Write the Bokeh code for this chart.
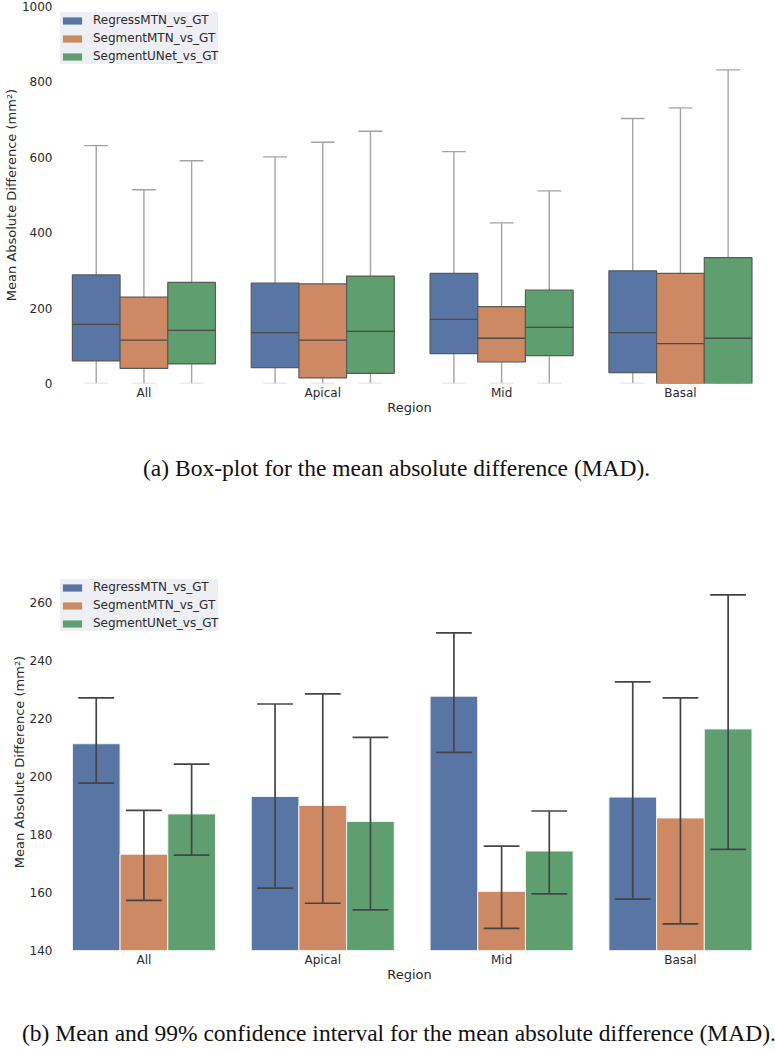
import numpy as np
from bokeh.plotting import figure
from bokeh.models import FixedTicker, Legend, LegendItem, Range1d, Div
from bokeh.layouts import column
from bokeh.embed import file_html
from bokeh.resources import INLINE

# ---------------- data ----------------
regions = ["All", "Apical", "Mid", "Basal"]
models = ["RegressMTN_vs_GT", "SegmentMTN_vs_GT", "SegmentUNet_vs_GT"]
colors = ["#5875a4", "#cc8963", "#5f9e6e"]

# box-plot statistics (rows = models, columns = regions)
box_low = [[0, 0, 0, 0], [0, 0, 0, 0], [0, 0, 0, 0]]
box_q1 = [[60, 42, 79, 29], [40, 15, 57, 0], [52, 27, 74, 0]]
box_median = [[157, 135, 170, 135], [115, 115, 120, 106], [141, 138, 149, 120]]
box_q3 = [[288, 266, 292, 299], [229, 264, 204, 292], [268, 285, 248, 334]]
box_high = [[631, 601, 615, 703], [514, 640, 426, 731], [591, 669, 511, 832]]

# mean and 99% confidence interval
mean_mad = [[211.3, 193.1, 227.7, 192.9], [173.2, 190.0, 160.4, 185.7], [187.1, 184.5, 174.3, 216.4]]
ci_low = [[197.7, 161.5, 208.3, 157.7], [157.3, 156.3, 147.6, 149.2], [172.9, 154.0, 159.5, 174.9]]
ci_high = [[227.1, 225.0, 249.5, 232.6], [188.3, 228.5, 176.0, 227.1], [204.3, 213.5, 188.1, 262.6]]

top_yticks = [0, 200, 400, 600, 800, 1000]
bottom_yticks = [140, 160, 180, 200, 220, 240, 260]

ylabel = "Mean Absolute Difference (mm\u00b2)"
xlabel = "Region"
caption_a = "(a) Box-plot for the mean absolute difference (MAD)."
caption_b = "(b) Mean and 99% confidence interval for the mean absolute difference (MAD)."

# ---------------- styling helpers ----------------
FONT = "DejaVu Sans"
TXT = "#2a2a2a"
bw = 0.8 / 3
offsets = [-bw, 0.0, bw]


def make_fig(y0, y1, yticks, height, top_border):
    p = figure(width=766, height=height, output_backend="svg", toolbar_location=None,
               x_range=Range1d(-0.5, 3.47), y_range=Range1d(y0, y1),
               min_border_left=45, min_border_right=2, min_border_top=top_border,
               min_border_bottom=36)
    p.outline_line_color = None
    p.xgrid.visible = False
    p.ygrid.visible = False
    p.background_fill_color = "white"
    for ax in (p.xaxis[0], p.yaxis[0]):
        ax.axis_line_color = None
        ax.major_tick_line_color = None
        ax.minor_tick_line_color = None
        ax.major_tick_out = 0
        ax.major_tick_in = 0
        ax.minor_tick_out = 0
        ax.minor_tick_in = 0
        ax.major_label_text_font = FONT
        ax.major_label_text_font_size = "12px"
        ax.major_label_text_color = TXT
        ax.axis_label_text_font = FONT
        ax.axis_label_text_font_size = "13px"
        ax.axis_label_text_font_style = "normal"
        ax.axis_label_text_color = TXT
        ax.major_label_standoff = 2
    p.xaxis.axis_label_standoff = -3
    p.yaxis.axis_label_standoff = 0
    p.xaxis.ticker = FixedTicker(ticks=list(range(len(regions))))
    p.xaxis.major_label_overrides = {i: r for i, r in enumerate(regions)}
    p.xaxis.axis_label = xlabel
    p.yaxis.ticker = FixedTicker(ticks=yticks)
    p.yaxis.axis_label = ylabel
    return p


def add_legend(p):
    rs = []
    for j in range(len(models)):
        # swatch renderer placed outside the visible range, used only for the legend
        rs.append(p.vbar(x=[-10], width=0.1, top=[1], bottom=[0],
                         fill_color=colors[j], line_color=None))
    leg = Legend(items=[LegendItem(label=m, renderers=[r]) for m, r in zip(models, rs)],
                 location="top_left", margin=6, padding=5, spacing=2,
                 glyph_width=24, glyph_height=9, label_height=16, label_width=125,
                 label_standoff=9,
                 label_text_font=FONT, label_text_font_size="12px", label_text_color=TXT,
                 background_fill_color="#eeeef5", background_fill_alpha=1.0,
                 border_line_color=None)
    p.add_layout(leg)


# ---------------- (a) box plot ----------------
p1 = make_fig(0, 1000, top_yticks, 419, 6)
whisk = "#a3a3a3"
edge = "#5a5a5a"
capw = bw / 2
for j in range(len(models)):
    xs = np.arange(len(regions)) + offsets[j]
    lo = np.array(box_low[j], dtype=float)
    q1 = np.array(box_q1[j], dtype=float)
    md = np.array(box_median[j], dtype=float)
    q3 = np.array(box_q3[j], dtype=float)
    hi = np.array(box_high[j], dtype=float)
    p1.segment(xs, q3, xs, hi, line_color=whisk, line_width=1.4)
    p1.segment(xs, lo, xs, q1, line_color=whisk, line_width=1.4)
    p1.segment(xs - capw / 2, hi, xs + capw / 2, hi, line_color=whisk, line_width=1.4)
    p1.segment(xs - capw / 2, lo, xs + capw / 2, lo, line_color="#d8d8d8", line_width=1.4)
    p1.vbar(x=xs, width=bw, bottom=q1, top=q3, fill_color=colors[j],
            line_color=edge, line_width=1.2)
    p1.segment(xs - bw / 2, md, xs + bw / 2, md, line_color="#4a4a4a", line_width=1.3)
add_legend(p1)

# ---------------- (b) bar plot with CI ----------------
p2 = make_fig(140, 270, bottom_yticks, 416, 3)
err = "#444444"
ecap = 0.2
for j in range(len(models)):
    xs = np.arange(len(regions)) + offsets[j]
    mv = np.array(mean_mad[j], dtype=float)
    p2.vbar(x=xs, width=bw, bottom=0, top=mv, fill_color=colors[j],
            line_color="#f4f4f4", line_width=1.0)
for j in range(len(models)):
    xs = np.arange(len(regions)) + offsets[j]
    lo = np.array(ci_low[j], dtype=float)
    hi = np.array(ci_high[j], dtype=float)
    p2.segment(xs, lo, xs, hi, line_color=err, line_width=1.7)
    p2.segment(xs - ecap / 2, hi, xs + ecap / 2, hi, line_color=err, line_width=1.7)
    p2.segment(xs - ecap / 2, lo, xs + ecap / 2, lo, line_color=err, line_width=1.7)
add_legend(p2)

# ---------------- captions ----------------
cap_style = ("font-family:'Liberation Serif',serif; font-size:23.5px; line-height:27px; "
             "color:#111; text-align:left; white-space:nowrap;")
div_a = Div(text='<div style="%s padding-top:36px; padding-left:143px;">%s</div>'
            % (cap_style, caption_a), width=767, height=151, margin=0)
div_b = Div(text='<div style="%s padding-top:34px; padding-left:22px;">%s</div>'
            % (cap_style, caption_b), width=767, height=57, margin=0)

layout = column(p1, div_a, p2, div_b, spacing=0)
open("out.html", "w").write(file_html(layout, INLINE))
